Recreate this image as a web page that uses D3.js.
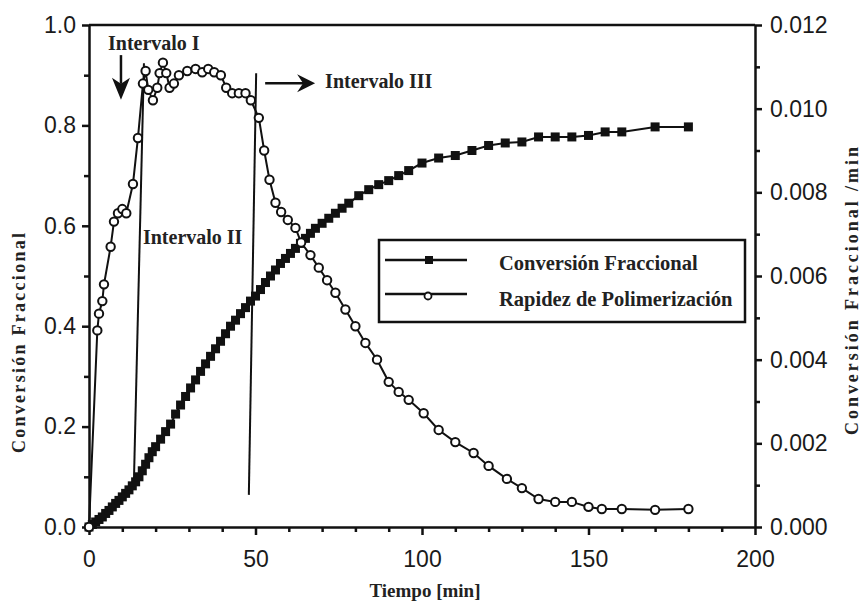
<!DOCTYPE html>
<head>
  <meta charset="utf-8">
  <script src="https://cdn.jsdelivr.net/npm/d3@7"></script>
  <style>
    body { margin: 0; background: white; }
    .axis text {
      font-family: "Liberation Sans", Arial, sans-serif;
      font-size: 23px;
      fill: #1a1a1a;
    }
    .axis path, .axis line {
      stroke: #111;
      stroke-width: 2.5;
    }
    .minor path { display: none; }
    .serif {
      font-family: "Liberation Serif", "Times New Roman", serif;
      font-weight: bold;
      fill: #222;
    }
  </style>
</head>

<body>
  <script>
const W = 864;
const H = 602;

// Conversión Fraccional (left axis), filled squares
const convTime = [0, 1, 2, 3, 4, 5, 6, 7, 8, 9, 10, 11, 12, 13, 14, 15, 16, 17, 18, 19, 20,
  21.5, 23, 24.5, 26, 27.5, 29, 30.5, 32, 33.5, 35, 36.5, 38, 39.5, 41, 42.5, 44, 45.5, 47,
  48.5, 50, 51.5, 53, 54.5, 56, 57.5, 59, 60.5, 62, 63.5, 65, 66.5, 68, 70, 72, 74, 76, 78,
  81, 84, 87, 90, 93, 96, 100, 105, 110, 115, 120, 125, 130, 135, 140, 145, 150, 155, 160, 170, 180];
const convValue = [0, 0.005, 0.01, 0.015, 0.02, 0.027, 0.033, 0.04, 0.047, 0.053, 0.06, 0.067,
  0.074, 0.082, 0.09, 0.10, 0.112, 0.125, 0.138, 0.15, 0.16,
  0.175, 0.19, 0.205, 0.225, 0.243, 0.26, 0.277, 0.293, 0.31, 0.325, 0.34, 0.355, 0.37, 0.385,
  0.40, 0.412, 0.425, 0.437, 0.45, 0.46, 0.473, 0.487, 0.50, 0.512, 0.525, 0.535, 0.545, 0.555,
  0.565, 0.575, 0.585, 0.595, 0.605, 0.615, 0.625, 0.635, 0.645,
  0.66, 0.672, 0.682, 0.69, 0.70, 0.71, 0.725, 0.735, 0.74, 0.75, 0.76, 0.765, 0.767, 0.777,
  0.777, 0.777, 0.78, 0.787, 0.787, 0.797, 0.797];

// Rapidez de Polimerización (right axis), open circles
const rateTime = [0, 2.5, 3, 4, 4.5, 6.5, 7.5, 8.7, 10, 11.2, 13.2, 14.7, 16.2, 17, 17.8, 19.2,
  20.5, 21.2, 22.2, 23.2, 24.2, 25.5, 27, 29.5, 32, 34, 35.8, 37.6, 39.6, 41.2, 43, 45, 47, 48.6,
  51, 52.6, 54.2, 56, 57.7, 59.7, 62, 63.7, 66.5, 69, 71.5, 74, 77, 80, 83, 86.5, 90, 93, 96,
  100.5, 105, 110, 115.5, 120, 125.5, 130, 135, 140, 145, 150, 154, 160, 170, 180];
const rateValue = [0, 0.0047, 0.0051, 0.0054, 0.0058, 0.0067, 0.0073, 0.0075, 0.0076, 0.0075,
  0.0082, 0.0093, 0.0106, 0.0109, 0.01045, 0.0102, 0.0105, 0.01085, 0.0111, 0.01085, 0.0105,
  0.0106, 0.0108, 0.0109, 0.01095, 0.01087, 0.01095, 0.01087, 0.0108, 0.0105, 0.01037, 0.01037,
  0.01037, 0.0102, 0.00978, 0.009, 0.0083, 0.00775, 0.00753, 0.00734, 0.00715, 0.0068, 0.0065,
  0.0062, 0.0059, 0.0056, 0.0052, 0.0048, 0.0044, 0.004, 0.00347, 0.00323, 0.00304, 0.00272,
  0.00232, 0.00203, 0.00177, 0.00146, 0.00115, 0.00093, 0.00067, 0.0006, 0.0006, 0.00048,
  0.00043, 0.00043, 0.00041, 0.00043];

// ticks
const xMajor = [0, 50, 100, 150, 200];
const xMinor = [10, 20, 30, 40, 60, 70, 80, 90, 110, 120, 130, 140, 160, 170, 180, 190];
const yLeftMajor = [0, 0.2, 0.4, 0.6, 0.8, 1.0];
const yLeftMinor = [0.1, 0.3, 0.5, 0.7, 0.9];
const yRightMajor = [0, 0.002, 0.004, 0.006, 0.008, 0.010, 0.012];
const yRightMinor = [0.001, 0.003, 0.005, 0.007, 0.009, 0.011];

// interval boundary lines (time, conversion) at both ends
const intervalLines = [
  [[13.5, 0.094], [16.5, 0.924]],
  [[48, 0.064], [50.2, 0.904]]
];

const legendNames = ["Conversión Fraccional", "Rapidez de Polimerización"];

var svg = d3.select("body").append("svg")
  .attr("width", W)
  .attr("height", H);

var x = d3.scaleLinear().domain([0, 200]).range([89, 755]);
var yL = d3.scaleLinear().domain([0, 1]).range([527, 25]);
var yR = d3.scaleLinear().domain([0, 0.012]).range([527, 25]);

// axes
svg.append("g").attr("class", "axis")
  .attr("transform", "translate(0,527)")
  .call(d3.axisBottom(x).tickValues(xMajor).tickSize(8).tickSizeOuter(0).tickPadding(16).tickFormat(d3.format("d")));
svg.append("g").attr("class", "axis minor")
  .attr("transform", "translate(0,527)")
  .call(d3.axisBottom(x).tickValues(xMinor).tickSize(5).tickFormat(""));

svg.append("g").attr("class", "axis")
  .attr("transform", "translate(89,0)")
  .call(d3.axisLeft(yL).tickValues(yLeftMajor).tickSize(7).tickSizeOuter(0).tickPadding(6).tickFormat(d3.format(".1f")));
svg.append("g").attr("class", "axis minor")
  .attr("transform", "translate(89,0)")
  .call(d3.axisLeft(yL).tickValues(yLeftMinor).tickSize(5).tickFormat(""));

svg.append("g").attr("class", "axis")
  .attr("transform", "translate(755,0)")
  .call(d3.axisRight(yR).tickValues(yRightMajor).tickSize(7).tickSizeOuter(0).tickPadding(8).tickFormat(d3.format(".3f")));
svg.append("g").attr("class", "axis minor")
  .attr("transform", "translate(755,0)")
  .call(d3.axisRight(yR).tickValues(yRightMinor).tickSize(5).tickFormat(""));

// top frame
svg.append("line")
  .attr("x1", x(0)).attr("x2", x(200))
  .attr("y1", yL(1)).attr("y2", yL(1))
  .attr("stroke", "#111").attr("stroke-width", 2.5);

// interval lines
svg.selectAll("line.interval").data(intervalLines).enter()
  .append("line").attr("class", "interval")
  .attr("x1", d => x(d[0][0])).attr("y1", d => yL(d[0][1]))
  .attr("x2", d => x(d[1][0])).attr("y2", d => yL(d[1][1]))
  .attr("stroke", "#111").attr("stroke-width", 2);

// series
const conv = convTime.map((t, i) => ({t: t, v: convValue[i]}));
const rate = rateTime.map((t, i) => ({t: t, v: rateValue[i]}));

svg.append("path").datum(conv)
  .attr("fill", "none").attr("stroke", "#111").attr("stroke-width", 2)
  .attr("d", d3.line().x(d => x(d.t)).y(d => yL(d.v)));
svg.selectAll("rect.conv").data(conv).enter()
  .append("rect").attr("class", "conv")
  .attr("x", d => x(d.t) - 4.5).attr("y", d => yL(d.v) - 4.5)
  .attr("width", 9).attr("height", 9)
  .attr("fill", "#111");

svg.append("path").datum(rate)
  .attr("fill", "none").attr("stroke", "#111").attr("stroke-width", 2)
  .attr("d", d3.line().x(d => x(d.t)).y(d => yR(d.v)));
svg.selectAll("circle.rate").data(rate).enter()
  .append("circle").attr("class", "rate")
  .attr("cx", d => x(d.t)).attr("cy", d => yR(d.v))
  .attr("r", 4.2)
  .attr("fill", "white").attr("stroke", "#111").attr("stroke-width", 2);

// annotations
svg.append("text").attr("class", "serif")
  .attr("x", x(5.7)).attr("y", yL(0.95))
  .style("font-size", "20px").text("Intervalo I");
// down arrow
var ax = x(9.6), ay0 = yL(0.94), ay1 = yL(0.851);
svg.append("line").attr("x1", ax).attr("x2", ax).attr("y1", ay0).attr("y2", ay1 - 16)
  .attr("stroke", "#111").attr("stroke-width", 2.5);
svg.append("path")
  .attr("d", `M${ax - 9},${ay1 - 22} L${ax},${ay1 - 16} L${ax + 9},${ay1 - 22} L${ax},${ay1} Z`)
  .attr("fill", "#111");

svg.append("text").attr("class", "serif")
  .attr("x", x(16.2)).attr("y", yL(0.564))
  .style("font-size", "20px").text("Intervalo II");

// right arrow
var bx0 = x(52.9), bx1 = x(67.9), by = yL(0.884);
svg.append("line").attr("x1", bx0).attr("x2", bx1 - 12).attr("y1", by).attr("y2", by)
  .attr("stroke", "#111").attr("stroke-width", 2.5);
svg.append("path")
  .attr("d", `M${bx1 - 18},${by - 9} L${bx1},${by} L${bx1 - 18},${by + 9} L${bx1 - 12},${by} Z`)
  .attr("fill", "#111");
svg.append("text").attr("class", "serif")
  .attr("x", x(70.9)).attr("y", yL(0.875))
  .style("font-size", "20px").text("Intervalo III");

// legend
var lg = svg.append("g").attr("transform", "translate(379,240)");
lg.append("rect").attr("width", 366).attr("height", 82)
  .attr("fill", "white").attr("stroke", "#111").attr("stroke-width", 2.5);
legendNames.forEach((name, i) => {
  var ly = 20 + i * 34;
  lg.append("line").attr("x1", 6).attr("x2", 88).attr("y1", ly).attr("y2", ly)
    .attr("stroke", "#111").attr("stroke-width", 2.5);
  if (i === 0) {
    lg.append("rect").attr("x", 46).attr("y", ly - 4).attr("width", 8).attr("height", 8).attr("fill", "#111");
  } else {
    lg.append("circle").attr("cx", 49).attr("cy", ly + 2).attr("r", 3.5)
      .attr("fill", "white").attr("stroke", "#111").attr("stroke-width", 1.8);
  }
  lg.append("text").attr("class", "serif")
    .attr("x", 120).attr("y", ly + 10 + i * 2)
    .style("font-size", "20.5px").text(name);
});

// axis titles
svg.append("text").attr("class", "serif")
  .attr("transform", "translate(425,597)")
  .attr("text-anchor", "middle")
  .style("font-size", "19px").text("Tiempo [min]");
svg.append("text").attr("class", "serif")
  .attr("transform", "translate(25,343) rotate(-90)")
  .attr("text-anchor", "middle")
  .attr("textLength", 220).attr("lengthAdjust", "spacing")
  .style("font-size", "18px").text("Conversión Fraccional");
svg.append("text").attr("class", "serif")
  .attr("transform", "translate(858,291) rotate(-90)")
  .attr("text-anchor", "middle")
  .attr("textLength", 288).attr("lengthAdjust", "spacing")
  .style("font-size", "18px").text("Conversión Fraccional /min");
  </script>
</body>
